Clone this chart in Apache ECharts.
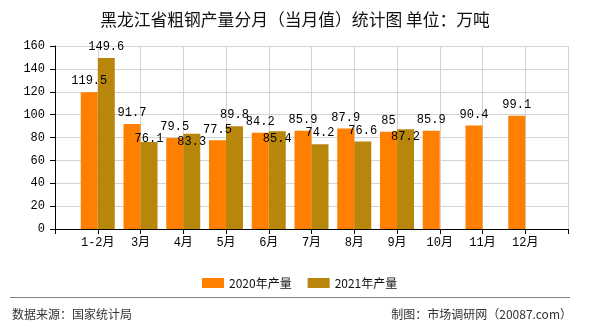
<!DOCTYPE html>
<html>
<head>
<meta charset="utf-8">
<script src="https://cdn.jsdelivr.net/npm/echarts@6/dist/echarts.min.js"></script>
<style>
  html, body { margin: 0; padding: 0; background: #fff; }
  #chart { width: 590px; height: 330px; }
</style>
</head>
<body>
<div id="chart"></div>
<script>
// Monthly crude steel output, Heilongjiang (10k tonnes)
var months = ['1-2月', '3月', '4月', '5月', '6月', '7月', '8月', '9月', '10月', '11月', '12月'];
var output2020 = [119.5, 91.7, 79.5, 77.5, 84.2, 85.9, 87.9, 85, 85.9, 90.4, 99.1];
var output2021 = [149.6, 76.1, 83.3, 89.8, 85.4, 74.2, 76.6, 87.2, null, null, null];
var seriesNames = ['2020年产量', '2021年产量'];
var yTicks = { min: 0, max: 160, interval: 20 };

// Vertical nudges for value labels that would otherwise collide
var labelNudge2021 = { 1: 8, 2: 19, 4: 19, 7: 19 };

// Category axis runs edge to edge, so pad both ends with blank slots
var axisCats = [''].concat(months).concat(['']);
function pad(arr) { return [null].concat(arr).concat([null]); }

var monoFont = '"Liberation Mono", "Noto Sans CJK SC", monospace';
var cjkFont = '"Noto Sans CJK SC", sans-serif';

function buildData(values, nudges) {
  return pad(values).map(function (v, i) {
    var k = i - 1;
    if (v == null) return null;
    if (nudges && nudges[k] !== undefined) {
      return { value: v, label: { offset: [0, nudges[k]] } };
    }
    return v;
  });
}

var chart = echarts.init(document.getElementById('chart'), null, { renderer: 'canvas' });
chart.setOption({
  animation: false,
  backgroundColor: '#fff',
  title: {
    text: '黑龙江省粗钢产量分月（当月值）统计图 单位：万吨',
    left: 'center',
    top: 6,
    textStyle: { fontFamily: cjkFont, fontSize: 16.8, fontWeight: 'normal', color: '#111' }
  },
  legend: {
    data: seriesNames,
    left: 197,
    top: 272,
    itemWidth: 22,
    itemHeight: 10,
    itemGap: 16,
    icon: 'rect',
    textStyle: { fontFamily: cjkFont, fontSize: 12, color: '#111' }
  },
  grid: { left: 55, right: 22, top: 46, bottom: 101 },
  xAxis: {
    type: 'category',
    data: axisCats,
    boundaryGap: false,
    axisLine: { lineStyle: { color: '#000', width: 1 } },
    axisTick: { show: true, length: 5, lineStyle: { color: '#000' } },
    axisLabel: { color: '#000', fontFamily: monoFont, fontSize: 12, margin: 8, interval: 0 },
    splitLine: { show: true, lineStyle: { color: '#d3d3d3', width: 1 } }
  },
  yAxis: {
    type: 'value',
    min: yTicks.min,
    max: yTicks.max,
    interval: yTicks.interval,
    axisLine: { show: true, lineStyle: { color: '#000', width: 1 } },
    axisTick: { show: true, length: 5, lineStyle: { color: '#000' } },
    axisLabel: { color: '#000', fontFamily: monoFont, fontSize: 12, margin: 10 },
    splitLine: { show: true, lineStyle: { color: '#d3d3d3', width: 1 } }
  },
  series: [
    {
      name: seriesNames[0],
      type: 'bar',
      data: buildData(output2020),
      barWidth: 17,
      barGap: '0%',
      itemStyle: { color: '#FF8000' },
      label: {
        show: true, position: 'top', distance: 5,
        color: '#000', fontFamily: monoFont, fontSize: 12
      }
    },
    {
      name: seriesNames[1],
      type: 'bar',
      data: buildData(output2021, labelNudge2021),
      barWidth: 17,
      barGap: '0%',
      itemStyle: { color: '#B8860B' },
      label: {
        show: true, position: 'top', distance: 5,
        color: '#000', fontFamily: monoFont, fontSize: 12
      }
    }
  ],
  graphic: [
    {
      type: 'line',
      shape: { x1: 10, y1: 297.5, x2: 570, y2: 297.5 },
      style: { stroke: '#808080', lineWidth: 1 }
    },
    {
      type: 'text',
      left: 12,
      top: 308,
      style: { text: '数据来源：国家统计局', fontFamily: cjkFont, fontSize: 12, fill: '#333' }
    },
    {
      type: 'text',
      right: 18,
      top: 308,
      style: { text: '制图：市场调研网（20087.com）', fontFamily: cjkFont, fontSize: 12, fill: '#333' }
    }
  ]
});
</script>
</body>
</html>
